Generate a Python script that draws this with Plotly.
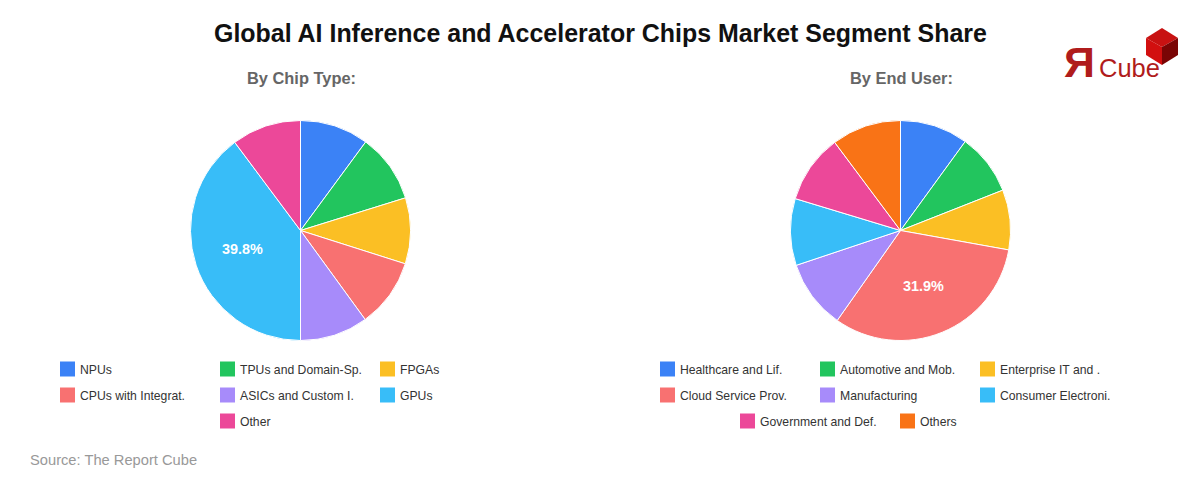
import math
import plotly.graph_objects as go

W, H = 1200, 480
FONT = "Liberation Sans, Arial, sans-serif"

chip_labels = ["NPUs", "TPUs and Domain-Sp.", "FPGAs", "CPUs with Integrat.", "ASICs and Custom I.", "GPUs", "Other"]
chip_values = [10.1, 10.1, 9.7, 10.1, 10.0, 39.8, 10.2]
user_labels = ["Healthcare and Lif.", "Automotive and Mob.", "Enterprise IT and .", "Cloud Service Prov.",
               "Manufacturing", "Consumer Electroni.", "Government and Def.", "Others"]
user_values = [10.0, 9.0, 8.8, 31.9, 10.1, 9.8, 10.1, 10.2]
colors = ["#3b82f6", "#22c55e", "#fbbf24", "#f87171", "#a78bfa", "#38bdf8", "#ec4899", "#f97316"]
chip_labelled = "GPUs"
user_labelled = "Cloud Service Prov."

def X(p): return p / W
def Y(p): return 1 - p / H
def path(points):
    return "M" + " L".join(f"{X(a):.5f},{Y(b):.5f}" for a, b in points) + " Z"

def pie(labels, values, cx):
    return go.Pie(
        labels=labels, values=values, sort=False, direction="clockwise", rotation=0,
        domain=dict(x=[X(cx - 110), X(cx + 110)], y=[Y(340.5), Y(120.5)]),
        marker=dict(colors=colors[:len(labels)], line=dict(color="#ffffff", width=1)),
        textinfo="none", hoverinfo="label+percent", showlegend=False,
    )

fig = go.Figure([pie(chip_labels, chip_values, 300.5),
                 pie(user_labels, user_values, 900.5)])

shapes, notes = [], []
def text(x, y, s, size, color, anchor="left", bold=False, family=FONT):
    notes.append(dict(x=X(x), y=Y(y), xref="paper", yref="paper", text=f"<b>{s}</b>" if bold else s,
                      showarrow=False, xanchor=anchor, yanchor="middle",
                      font=dict(size=size, color=color, family=family), align=anchor))

def legend(labels, rows):
    i = 0
    for row_y, xs in rows:
        for x in xs:
            shapes.append(dict(type="rect", xref="paper", yref="paper", x0=X(x), x1=X(x + 15),
                               y0=Y(row_y + 7.5), y1=Y(row_y - 7.5), fillcolor=colors[i], line_width=0))
            text(x + 18, row_y + 1, labels[i], 12.2, "#333333")
            i += 1

def slice_label(labels, values, cx, keep):
    i = labels.index(keep)
    mid = (sum(values[:i]) + values[i] / 2) / sum(values) * 2 * math.pi
    text(cx + 61 * math.sin(mid), 229.5 - 61 * math.cos(mid), f"{values[i]}%", 14.4, "#ffffff", "center", True)

legend(chip_labels, [(369, [60, 220, 380]), (395, [60, 220, 380]), (421, [220])])
legend(user_labels, [(369, [660, 820, 980]), (395, [660, 820, 980]), (421, [740, 900])])
slice_label(chip_labels, chip_values, 300, chip_labelled)
slice_label(user_labels, user_values, 900, user_labelled)

text(600.5, 33, "Global AI Inference and Accelerator Chips Market Segment Share", 24.95, "#111111", "center", True)
text(301.5, 78, "By Chip Type:", 16.4, "#666666", "center", True)
text(901.5, 78, "By End User:", 16.4, "#666666", "center", True)
text(28, 460, "Source: The Report Cube", 14.7, "#999999")

# logo
shapes += [
    dict(type="path", xref="paper", yref="paper", path=path([(1146, 38), (1162, 28), (1178, 38), (1162, 47)]), fillcolor="#c81212", line_width=0),
    dict(type="path", xref="paper", yref="paper", path=path([(1146, 38), (1162, 47), (1162, 65), (1146, 55)]), fillcolor="#d20f0f", line_width=0),
    dict(type="path", xref="paper", yref="paper", path=path([(1162, 47), (1178, 38), (1178, 55), (1162, 65)]), fillcolor="#7a0505", line_width=0),
]
text(1079.5, 62, "<b>Я</b>", 43, "#b01c1c", "center")
text(1129.5, 68, "Cube", 25.5, "#b01c1c", "center")

fig.update_layout(width=W, height=H, margin=dict(l=0, r=0, t=0, b=0), paper_bgcolor="#ffffff",
                  font=dict(family=FONT), shapes=shapes, annotations=notes)
fig.write_html("out.html", config=dict(displayModeBar=False),
               post_script="document.body.style.margin='0';document.body.style.overflow='hidden';")
